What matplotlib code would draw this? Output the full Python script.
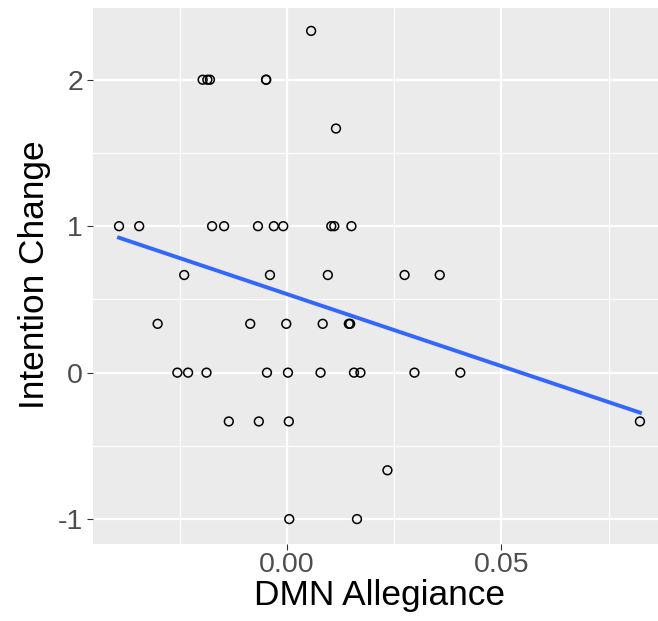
import matplotlib.pyplot as plt
import numpy as np
from matplotlib.ticker import MultipleLocator

# DMN allegiance (x) and intention change (y)
dmn_allegiance = [
    0.0056,
    -0.0197, -0.0186, -0.0180, -0.0049, -0.0049,
    0.0114,
    -0.0392, -0.0345, -0.0175, -0.0147, -0.0068, -0.0031, -0.0009, 0.0103, 0.0110, 0.0150,
    -0.0240, -0.0040, 0.0095, 0.0274, 0.0356,
    -0.0302, -0.0086, -0.0002, 0.0083, 0.0144, 0.0147,
    -0.0256, -0.0231, -0.0188, -0.0047, 0.0002, 0.0078, 0.0156, 0.0171, 0.0297, 0.0404,
    -0.0136, -0.0066, 0.0004, 0.0823,
    0.0234,
    0.0005, 0.0163,
]
intention_change = (
    [7 / 3]
    + [2] * 5
    + [5 / 3]
    + [1] * 10
    + [2 / 3] * 5
    + [1 / 3] * 6
    + [0] * 10
    + [-1 / 3] * 4
    + [-2 / 3]
    + [-1] * 2
)

# linear fit shown in the reference (slope, intercept)
fit_slope = -9.83
fit_intercept = 0.536

x_ticks = [0.00, 0.05]
x_tick_labels = ["0.00", "0.05"]
y_ticks = [-1, 0, 1, 2]


def expand(lo, hi, frac=0.05):
    pad = (hi - lo) * frac
    return lo - pad, hi + pad


def main() -> None:
    plt.rcParams["font.family"] = ["Liberation Sans", "DejaVu Sans"]

    x = np.array(dmn_allegiance)
    y = np.array(intention_change)

    W, H = 658, 621
    fig = plt.figure(figsize=(W / 100, H / 100), dpi=100)
    left, bottom, top = 93, 543.5, 6.5
    ax = fig.add_axes([left / W, 1 - bottom / H, 573 / W, (bottom - top) / H])
    ax.set_facecolor("#EBEBEB")

    ax.set_xlim(*expand(x.min(), x.max()))
    ax.set_ylim(*expand(y.min(), y.max()))

    ax.set_xticks(x_ticks)
    ax.set_xticklabels(x_tick_labels)
    ax.xaxis.set_minor_locator(MultipleLocator(0.025))
    ax.set_yticks(y_ticks)
    ax.set_yticklabels([str(v) for v in y_ticks])
    ax.yaxis.set_minor_locator(MultipleLocator(0.5))

    ax.grid(which="major", color="white", linewidth=1.6)
    ax.grid(which="minor", color="white", linewidth=0.8)
    ax.set_axisbelow(True)
    for s in ax.spines.values():
        s.set_visible(False)

    ax.tick_params(which="major", length=4.2, width=0.8, color="#333333",
                   labelcolor="#4D4D4D", labelsize=20.5)
    ax.tick_params(axis="x", which="major", pad=2)
    ax.tick_params(axis="y", which="major", pad=3)
    ax.tick_params(which="minor", length=0)

    ax.scatter(x, y, s=40, facecolors="none", edgecolors="black",
               linewidths=1.1, zorder=3)

    xs = np.linspace(x.min(), x.max(), 50)
    ax.plot(xs, fit_slope * xs + fit_intercept, color="#3366FF",
            linewidth=2.8, zorder=4)

    ax.set_xlabel("DMN Allegiance", fontsize=25.4, color="black", labelpad=1)
    ax.set_ylabel("Intention Change", fontsize=25.4, color="black", labelpad=5)

    fig.savefig("out.png", dpi=100)
    plt.close(fig)


if __name__ == "__main__":
    main()
